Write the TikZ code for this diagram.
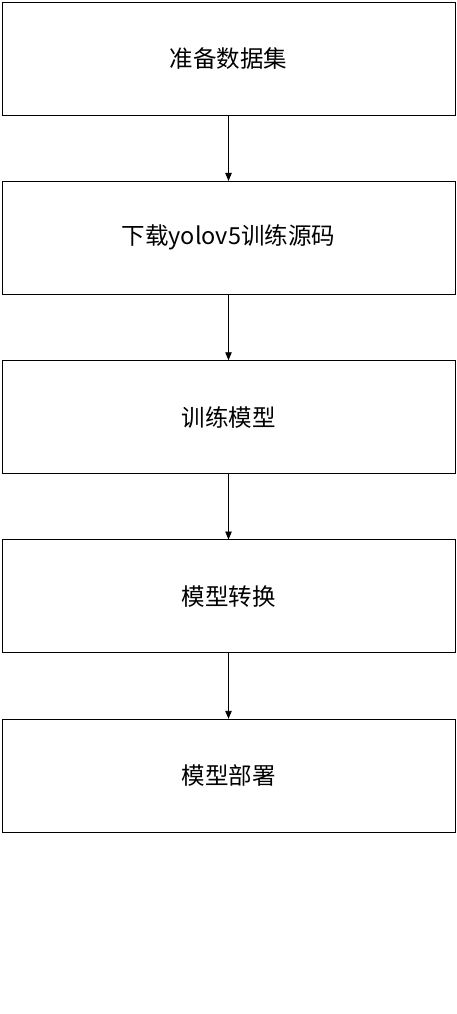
\documentclass[tikz,border=0pt]{standalone}
\usepackage{fontspec}
\newfontfamily\cjk{Noto Sans CJK SC}
\usetikzlibrary{arrows,positioning}
\tikzset{
    step box/.style = {rectangle,
                    fill=white,
                    draw=black,
                    text=black,
                    line width=0.9pt,
                    minimum width=453pt,
                    minimum height=113pt,
                    inner sep=0pt,
                    font=\cjk\fontsize{23.5}{27}\selectfont},
    -,
    >=triangle 45,
    node distance=179.3pt}

\begin{document}
\begin{tikzpicture}
                \useasboundingbox (0,0) rectangle (456pt,-1014pt);
                \node[step box]     (A) at (228.5pt,-58.5pt) {准备数据集};
                \node[step box]     (B) [below of=A]   {下载yolov5训练源码};
                \node[step box]     (C) [below of=B]   {训练模型};
                \node[step box]     (D) [below of=C]   {模型转换};
                \node[step box]     (E) [below of=D]   {模型部署};
                \path [line width=0.8pt,->]  (A) edge []  node [] {} (B)
                                        (B) edge []  node [] {} (C)
                                        (C) edge []  node [] {} (D)
                                        (D) edge []  node [] {} (E);
        \end{tikzpicture}
\end{document}
